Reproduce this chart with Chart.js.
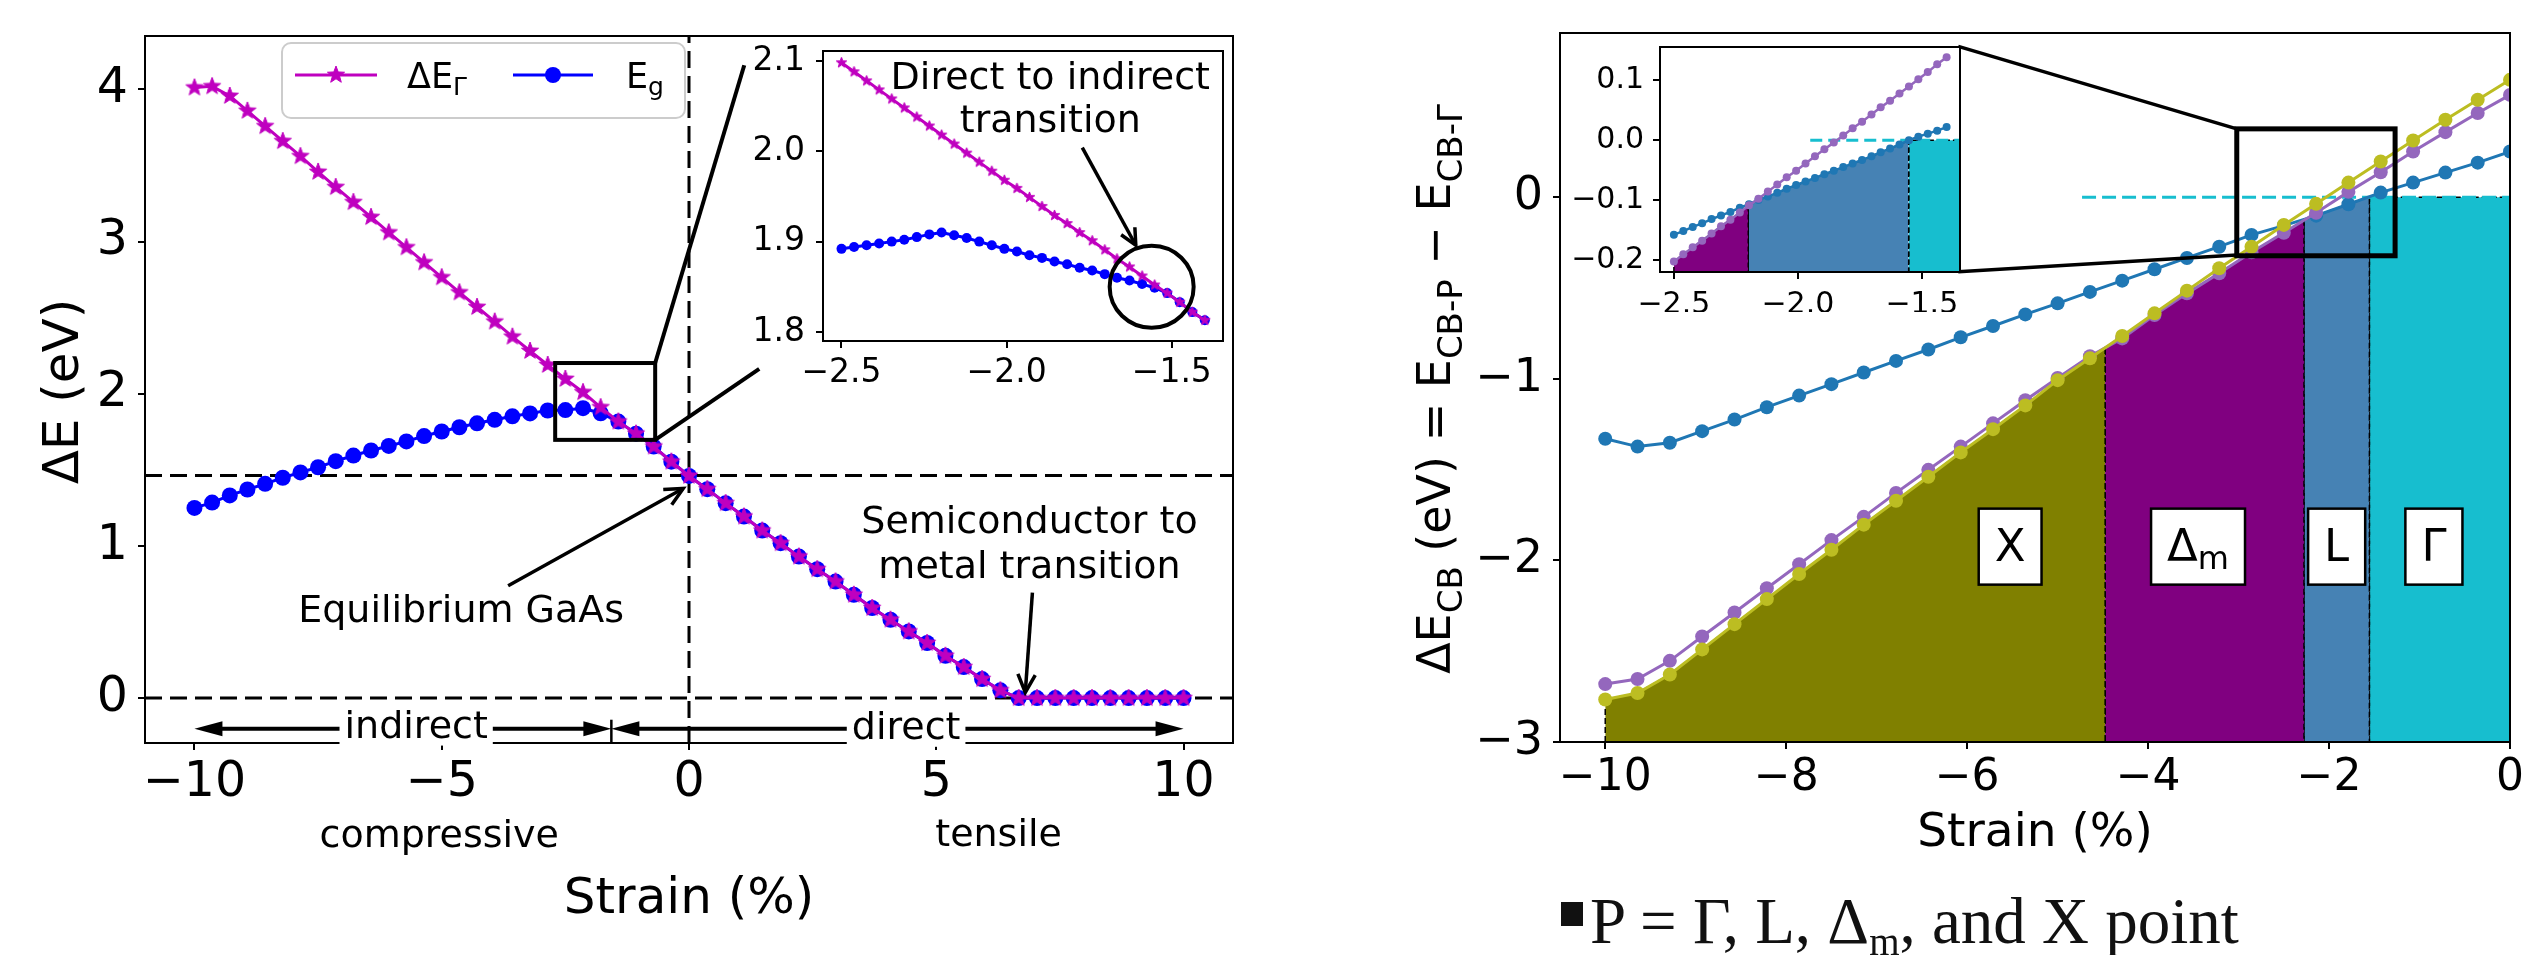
<!DOCTYPE html>
<html><head><meta charset="utf-8">
<script src="https://cdn.jsdelivr.net/npm/chart.js"></script>
<style>
html,body{margin:0;padding:0;background:#fff;overflow:hidden;}
#wrap{position:relative;width:2532px;height:955px;background:#fff;overflow:hidden;}
canvas{position:absolute;}
#cap{position:absolute;left:1590px;top:889px;font-family:"Liberation Serif",serif;font-size:65px;line-height:65px;color:#111;white-space:nowrap;}
#cap .sub{font-size:0.6em;position:relative;top:0.32em;}
#bullet{position:absolute;left:1561px;top:902px;width:22px;height:24px;background:#111;}
</style></head><body>
<div id="wrap">
<canvas id="cLeft" width="1260" height="955" style="left:0;top:0"></canvas>
<canvas id="cRight" width="1232" height="955" style="left:1300px;top:0"></canvas>
<canvas id="cLeftIn" width="540" height="400" style="left:700px;top:0"></canvas>
<canvas id="cRightIn" width="440" height="330" style="left:1540px;top:0"></canvas>
<div id="bullet"></div>
<div id="cap">P = Γ, L, Δ<span class="sub">m</span>, and X point</div>
</div>
<script>
// ---------------- DATA ----------------
// Left panel: strain (%) grid and energies (eV)
const strainMain = [-10, -9.643, -9.286, -8.929, -8.571, -8.214, -7.857, -7.5, -7.143, -6.786, -6.429, -6.071, -5.714, -5.357, -5, -4.643, -4.286, -3.929, -3.571, -3.214, -2.857, -2.5, -2.143, -1.786, -1.429, -1.071, -0.714, -0.357, 0,
  0.37, 0.741, 1.111, 1.481, 1.852, 2.222, 2.593, 2.963, 3.333, 3.704, 4.074, 4.444, 4.815, 5.185, 5.556, 5.926, 6.296, 6.667, 7.037, 7.407, 7.778, 8.148, 8.519, 8.889, 9.259, 9.63, 10];
const dEGamma = [4.012, 4.020, 3.957, 3.859, 3.758, 3.660, 3.561, 3.458, 3.358, 3.259, 3.161, 3.060, 2.962, 2.863, 2.765, 2.666, 2.570, 2.474, 2.375, 2.281, 2.189, 2.097, 2.010, 1.911, 1.817, 1.738, 1.653, 1.554, 1.460,
  1.373, 1.281, 1.193, 1.101, 1.018, 0.930, 0.847, 0.766, 0.679, 0.592, 0.515, 0.438, 0.362, 0.278, 0.204, 0.125, 0.051, 0, 0, 0, 0, 0, 0, 0, 0, 0, 0];
const Eg = [1.250, 1.285, 1.332, 1.371, 1.408, 1.448, 1.483, 1.517, 1.557, 1.594, 1.627, 1.657, 1.687, 1.722, 1.752, 1.780, 1.806, 1.829, 1.852, 1.871, 1.890, 1.893, 1.905, 1.872, 1.817, 1.738, 1.653, 1.554, 1.460,
  1.373, 1.281, 1.193, 1.101, 1.018, 0.930, 0.847, 0.766, 0.679, 0.592, 0.515, 0.438, 0.362, 0.278, 0.204, 0.125, 0.051, 0, 0, 0, 0, 0, 0, 0, 0, 0, 0];
const eqGap = 1.463;
const leftXTicks = [-10, -5, 0, 5, 10];
const leftYTicks = [0, 1, 2, 3, 4];

// Insets: strain grid (%)
const insetStrain = [-2.5, -2.462, -2.424, -2.386, -2.348, -2.310, -2.272, -2.234, -2.197, -2.159, -2.121, -2.083, -2.045, -2.007, -1.969, -1.931, -1.893, -1.855, -1.817, -1.779, -1.741, -1.703, -1.666, -1.628, -1.590, -1.552, -1.514, -1.476, -1.438, -1.4];
const insetDEGamma = [2.098, 2.088, 2.078, 2.068, 2.058, 2.048, 2.038, 2.028, 2.018, 2.008, 1.998, 1.988, 1.978, 1.968, 1.959, 1.949, 1.939, 1.929, 1.920, 1.910, 1.901, 1.891, 1.881, 1.872, 1.862, 1.852, 1.843, 1.833, 1.822, 1.813];
const insetEg = [1.892, 1.894, 1.896, 1.898, 1.900, 1.902, 1.905, 1.908, 1.910, 1.907, 1.904, 1.900, 1.896, 1.892, 1.889, 1.885, 1.882, 1.878, 1.875, 1.871, 1.868, 1.864, 1.860, 1.857, 1.853, 1.849, 1.843, 1.833, 1.822, 1.813];
const insetLXTicks = [-2.5, -2.0, -1.5];
const insetLYTicks = [1.8, 1.9, 2.0, 2.1];

// Right panel: conduction-band offsets (eV) vs strain
const strainCB = [-10, -9.643, -9.286, -8.929, -8.571, -8.214, -7.857, -7.5, -7.143, -6.786, -6.429, -6.071, -5.714, -5.357, -5, -4.643, -4.286, -3.929, -3.571, -3.214, -2.857, -2.5, -2.143, -1.786, -1.429, -1.071, -0.714, -0.357, 0];
const cbL = [-1.330, -1.373, -1.352, -1.288, -1.224, -1.156, -1.092, -1.029, -0.965, -0.901, -0.838, -0.771, -0.709, -0.645, -0.584, -0.521, -0.459, -0.396, -0.334, -0.272, -0.207, -0.156, -0.101, -0.038, 0.026, 0.081, 0.136, 0.191, 0.252];
const cbDm = [-2.681, -2.653, -2.553, -2.419, -2.287, -2.153, -2.021, -1.888, -1.760, -1.628, -1.501, -1.373, -1.245, -1.118, -0.995, -0.875, -0.777, -0.648, -0.529, -0.418, -0.303, -0.195, -0.085, 0.030, 0.138, 0.252, 0.359, 0.464, 0.564];
const cbX = [-2.766, -2.730, -2.628, -2.490, -2.351, -2.213, -2.075, -1.941, -1.803, -1.671, -1.539, -1.405, -1.277, -1.146, -1.007, -0.887, -0.764, -0.639, -0.514, -0.391, -0.272, -0.152, -0.036, 0.081, 0.197, 0.313, 0.427, 0.537, 0.647];
const gammaLineX = [-4.73, 0];
const gammaLineY = [0, 0];
const regionBounds = [-10, -4.475, -2.277, -1.554, 0];
const regionNames = ['X', 'Δm', 'L', 'Γ'];
const insetCBDm = [-0.203, -0.191, -0.179, -0.168, -0.156, -0.144, -0.133, -0.121, -0.109, -0.098, -0.086, -0.074, -0.062, -0.051, -0.039, -0.027, -0.015, -0.004, 0.008, 0.020, 0.031, 0.043, 0.055, 0.066, 0.078, 0.090, 0.102, 0.114, 0.127, 0.139];
const insetCBL = [-0.158, -0.152, -0.145, -0.139, -0.132, -0.126, -0.120, -0.113, -0.107, -0.100, -0.094, -0.088, -0.081, -0.075, -0.069, -0.063, -0.057, -0.051, -0.045, -0.039, -0.033, -0.027, -0.020, -0.014, -0.007, 0.000, 0.006, 0.011, 0.016, 0.022];
const insetGammaX = [-1.95, -1.345];
const insetGammaY = [0, 0];
const insetRegionBounds = [-2.5, -2.2, -1.553, -1.345];
const rightXTicks = [-10, -8, -6, -4, -2, 0];
const rightYTicks = [-3, -2, -1, 0];
const insetRXTicks = [-2.5, -2.0, -1.5];
const insetRYTicks = [-0.2, -0.1, 0.0, 0.1];

// ---------------- HELPERS ----------------
const FONT = '"DejaVu Sans", sans-serif';
Chart.defaults.font.family = FONT;
Chart.defaults.color = '#000';
const fmtInt = v => (v < 0 ? '\u2212' : '') + Math.abs(v);
const fmt1 = v => (v < -1e-9 ? '\u2212' : '') + Math.abs(v).toFixed(1);
const pts = (xs, ys) => xs.map((x, i) => ({ x, y: ys[i] }));
function interp(xs, ys, x) {
  for (let i = 0; i < xs.length - 1; i++) {
    if (x >= xs[i] && x <= xs[i + 1]) { const t = (x - xs[i]) / (xs[i + 1] - xs[i]); return ys[i] + t * (ys[i + 1] - ys[i]); }
  }
  return x < xs[0] ? ys[0] : ys[ys.length - 1];
}
function regionPts(xs, ys, a, b, floor) {
  const out = [{ x: a, y: floor }, { x: a, y: interp(xs, ys, a) }];
  xs.forEach((x, i) => { if (x > a && x < b) out.push({ x, y: ys[i] }); });
  out.push({ x: b, y: interp(xs, ys, b) }, { x: b, y: floor });
  return out;
}
function makeStar(r, color) {
  const c = document.createElement('canvas');
  const s = Math.ceil(2 * r + 4); c.width = s; c.height = s;
  const g = c.getContext('2d');
  g.fillStyle = color; g.strokeStyle = color; g.lineWidth = 1; g.lineJoin = 'miter';
  g.beginPath();
  for (let i = 0; i < 10; i++) {
    const ang = -Math.PI / 2 + i * Math.PI / 5, rr = i % 2 === 0 ? r : r * 0.42;
    g.lineTo(s / 2 + rr * Math.cos(ang), s / 2 + rr * Math.sin(ang));
  }
  g.closePath(); g.fill(); g.stroke();
  return c;
}
function axis(o) {
  return {
    type: 'linear', min: o.min, max: o.max,
    afterFit: s => { if (o.horizontal) s.height = o.size; else s.width = o.size; },
    afterBuildTicks: s => { s.ticks = o.ticks.map(v => ({ value: v })); },
    ticks: { callback: o.fmt, font: { size: o.font, lineHeight: 1 }, padding: o.pad, maxRotation: 0, minRotation: 0, autoSkip: false, color: '#000' },
    grid: { display: true, drawOnChartArea: false, drawTicks: true, tickLength: 7, color: '#000', lineWidth: 2 },
    border: { display: false }
  };
}
function options(c) {
  return {
    responsive: false, maintainAspectRatio: false, animation: false, devicePixelRatio: 1, events: [],
    layout: { padding: { left: c.area.left - c.yW, top: c.area.top, right: c.w - c.area.right, bottom: c.h - c.area.bottom - c.xH } },
    plugins: { legend: { display: false }, tooltip: { enabled: false } },
    elements: { line: { tension: 0 } },
    scales: {
      x: axis({ horizontal: true, size: c.xH, min: c.xMin, max: c.xMax, ticks: c.xTicks, fmt: c.xFmt, font: c.xFont, pad: c.xPad }),
      y: axis({ horizontal: false, size: c.yW, min: c.yMin, max: c.yMax, ticks: c.yTicks, fmt: c.yFmt, font: c.yFont, pad: c.yPad })
    }
  };
}
const framePlugin = {
  id: 'frame',
  beforeDraw(chart) {
    const a = chart.chartArea, ctx = chart.ctx;
    ctx.save(); ctx.fillStyle = '#fff'; ctx.fillRect(a.left, a.top, a.right - a.left, a.bottom - a.top); ctx.restore();
  },
  afterDatasetsDraw(chart) {
    const a = chart.chartArea, ctx = chart.ctx;
    ctx.save(); ctx.strokeStyle = '#000'; ctx.lineWidth = 2;
    ctx.strokeRect(a.left, a.top, a.right - a.left, a.bottom - a.top); ctx.restore();
  }
};
function richText(ctx, parts, x, y, align) {
  let total = 0;
  parts.forEach(p => { ctx.font = p[1] + 'px ' + FONT; p.w = ctx.measureText(p[0]).width; total += p.w; });
  let cx = align === 'center' ? x - total / 2 : (align === 'right' ? x - total : x);
  ctx.textAlign = 'left'; ctx.textBaseline = 'alphabetic';
  parts.forEach(p => { ctx.font = p[1] + 'px ' + FONT; ctx.fillText(p[0], cx, y + (p[2] || 0)); cx += p.w; });
  return total;
}
function openArrow(ctx, x1, y1, x2, y2, lw, len) {
  const a = Math.atan2(y2 - y1, x2 - x1);
  ctx.save(); ctx.lineWidth = lw; ctx.strokeStyle = '#000'; ctx.lineJoin = 'miter';
  ctx.beginPath(); ctx.moveTo(x1, y1); ctx.lineTo(x2, y2); ctx.stroke();
  ctx.beginPath();
  ctx.moveTo(x2 - len * Math.cos(a - 0.45), y2 - len * Math.sin(a - 0.45)); ctx.lineTo(x2, y2);
  ctx.lineTo(x2 - len * Math.cos(a + 0.45), y2 - len * Math.sin(a + 0.45)); ctx.stroke();
  ctx.restore();
}
function filledHead(ctx, x, y, ang, len, hw) {
  ctx.beginPath(); ctx.moveTo(x, y);
  ctx.lineTo(x - len * Math.cos(ang) - hw * Math.sin(ang), y - len * Math.sin(ang) + hw * Math.cos(ang));
  ctx.lineTo(x - len * Math.cos(ang) + hw * Math.sin(ang), y - len * Math.sin(ang) - hw * Math.cos(ang));
  ctx.closePath(); ctx.fill();
}
function textBox(ctx, str, cx, baseline, size, pad) {
  ctx.font = size + 'px ' + FONT;
  const w = ctx.measureText(str).width;
  ctx.fillStyle = '#fff'; ctx.fillRect(cx - w / 2 - pad, baseline - size * 0.85, w + 2 * pad, size * 1.05);
  ctx.fillStyle = '#000'; ctx.textAlign = 'center'; ctx.textBaseline = 'alphabetic'; ctx.fillText(str, cx, baseline);
}

// ---------------- LEFT MAIN ----------------
const L = { xMin: -11, xMax: 11, yMin: -0.295, yMax: 4.351 };
const starMain = makeStar(9, '#bf00bf');
const starInset = makeStar(5.5, '#bf00bf');
const leftAnno = {
  box: [-2.706, -0.684, 1.697, 2.202],
  conn: [[-0.684, 2.202, 1.117, 4.159], [-0.684, 1.697, 1.42, 2.163]],
  eq: { text: 'Equilibrium GaAs', x: -4.607, y: 0.50, arrow: [-3.657, 0.738, -0.117, 1.378] },
  semi: { lines: ['Semiconductor to', 'metal transition'], x: 6.885, y: [1.086, 0.791], arrow: [6.944, 0.693, 6.80, 0.037] },
  comp: { text: 'compressive', x: -5.05, y: -0.98 },
  tens: { text: 'tensile', x: 6.26, y: -0.975 },
  rangeY: -0.201, split: -1.57,
  ind: { text: 'indirect', x: -5.517, y: -0.262 },
  dir: { text: 'direct', x: 4.39, y: -0.27 }
};
const leftPlugin = {
  id: 'leftAnno',
  afterDraw(chart) {
    const ctx = chart.ctx, xs = chart.scales.x, ys = chart.scales.y, a = chart.chartArea;
    const X = v => xs.getPixelForValue(v), Y = v => ys.getPixelForValue(v);
    const A = leftAnno;
    ctx.save();
    ctx.strokeStyle = '#000'; ctx.fillStyle = '#000';
    // zoom box + connectors
    ctx.lineWidth = 4;
    ctx.strokeRect(X(A.box[0]), Y(A.box[3]), X(A.box[1]) - X(A.box[0]), Y(A.box[2]) - Y(A.box[3]));
    A.conn.forEach(c => { ctx.beginPath(); ctx.moveTo(X(c[0]), Y(c[1])); ctx.lineTo(X(c[2]), Y(c[3])); ctx.stroke(); });
    // annotations
    ctx.font = '38px ' + FONT; ctx.textAlign = 'center'; ctx.textBaseline = 'alphabetic';
    ctx.fillText(A.eq.text, X(A.eq.x), Y(A.eq.y));
    openArrow(ctx, X(A.eq.arrow[0]), Y(A.eq.arrow[1]), X(A.eq.arrow[2]), Y(A.eq.arrow[3]), 3.5, 20);
    ctx.font = '38px ' + FONT; ctx.textAlign = 'center';
    A.semi.lines.forEach((t, i) => ctx.fillText(t, X(A.semi.x), Y(A.semi.y[i])));
    openArrow(ctx, X(A.semi.arrow[0]), Y(A.semi.arrow[1]), X(A.semi.arrow[2]), Y(A.semi.arrow[3]), 3.5, 20);
    ctx.font = '38px ' + FONT; ctx.textAlign = 'center';
    ctx.fillText(A.comp.text, X(A.comp.x), Y(A.comp.y));
    ctx.fillText(A.tens.text, X(A.tens.x), Y(A.tens.y));
    // range arrows
    const ry = Y(A.rangeY);
    ctx.lineWidth = 4;
    ctx.beginPath(); ctx.moveTo(X(leftXTicks[0]) + 10, ry); ctx.lineTo(X(A.split) - 10, ry);
    ctx.moveTo(X(A.split) + 10, ry); ctx.lineTo(X(leftXTicks[4]) - 10, ry); ctx.stroke();
    filledHead(ctx, X(leftXTicks[0]), ry, Math.PI, 28, 7.5);
    filledHead(ctx, X(A.split), ry, 0, 28, 7.5);
    filledHead(ctx, X(A.split), ry, Math.PI, 28, 7.5);
    filledHead(ctx, X(leftXTicks[4]), ry, 0, 28, 7.5);
    ctx.lineWidth = 2.5;
    ctx.beginPath(); ctx.moveTo(X(A.split), Y(-0.142)); ctx.lineTo(X(A.split), a.bottom); ctx.stroke();
    textBox(ctx, A.ind.text, X(A.ind.x), Y(A.ind.y), 38, 5);
    textBox(ctx, A.dir.text, X(A.dir.x), Y(A.dir.y), 38, 5);
    // axis titles
    ctx.fillStyle = '#000';
    ctx.font = '50px ' + FONT; ctx.textAlign = 'center'; ctx.textBaseline = 'alphabetic';
    ctx.fillText('Strain (%)', (a.left + a.right) / 2, 913);
    ctx.save(); ctx.translate(78, (a.top + a.bottom) / 2 + 2); ctx.rotate(-Math.PI / 2);
    ctx.fillText('ΔE (eV)', 0, 0); ctx.restore();
    // legend
    const lx = 282, ly = 43, lw = 403, lh = 75, r = 9;
    ctx.globalAlpha = 0.85; ctx.fillStyle = '#fff';
    ctx.beginPath(); ctx.roundRect(lx, ly, lw, lh, r); ctx.fill();
    ctx.globalAlpha = 1; ctx.strokeStyle = '#cccccc'; ctx.lineWidth = 2; ctx.stroke();
    ctx.strokeStyle = '#bf00bf'; ctx.lineWidth = 3;
    ctx.beginPath(); ctx.moveTo(295, 75); ctx.lineTo(377, 75); ctx.stroke();
    ctx.drawImage(starMain, 336 - starMain.width / 2, 75 - starMain.height / 2);
    ctx.strokeStyle = '#0000ff';
    ctx.beginPath(); ctx.moveTo(513, 75); ctx.lineTo(593, 75); ctx.stroke();
    ctx.fillStyle = '#0000ff'; ctx.beginPath(); ctx.arc(553, 75, 8, 0, 2 * Math.PI); ctx.fill();
    ctx.fillStyle = '#000';
    richText(ctx, [['ΔE', 35, 0], ['Γ', 25, 7]], 407, 88, 'left');
    richText(ctx, [['E', 35, 0], ['g', 25, 7]], 626, 88, 'left');
    ctx.restore();
  }
};
new Chart(document.getElementById('cLeft'), {
  type: 'line',
  data: { datasets: [
    { data: pts(strainMain, dEGamma), borderColor: '#bf00bf', borderWidth: 3, pointStyle: starMain, pointRadius: 9, order: 0 },
    { data: pts(strainMain, Eg), borderColor: '#0000ff', borderWidth: 3, pointStyle: 'circle', pointRadius: 8, pointBorderWidth: 0, pointBackgroundColor: '#0000ff', order: 1 },
    { data: [{ x: L.xMin, y: eqGap }, { x: L.xMax, y: eqGap }], borderColor: '#000', borderWidth: 3, borderDash: [17, 8], pointRadius: 0, order: 5 },
    { data: [{ x: L.xMin, y: 0 }, { x: L.xMax, y: 0 }], borderColor: '#000', borderWidth: 3, borderDash: [17, 8], pointRadius: 0, order: 5 },
    { data: [{ x: 0, y: L.yMin }, { x: 0, y: L.yMax }], borderColor: '#000', borderWidth: 3, borderDash: [17, 8], pointRadius: 0, order: 5 }
  ] },
  options: options({ w: 1260, h: 955, area: { left: 145, top: 36, right: 1233, bottom: 743 }, yW: 145, xH: 100,
    xMin: L.xMin, xMax: L.xMax, yMin: L.yMin, yMax: L.yMax, xTicks: leftXTicks, yTicks: leftYTicks,
    xFmt: fmtInt, yFmt: fmtInt, xFont: 49, yFont: 49, xPad: 9, yPad: 10 }),
  plugins: [framePlugin, leftPlugin]
});

// ---------------- LEFT INSET ----------------
const liAnno = { lines: ['Direct to indirect', 'transition'], x: -1.868, y: [2.0687, 2.0217], arrow: [-1.771, 2.004, -1.609, 1.896], circle: [-1.561, 1.850] };
const leftInPlugin = {
  id: 'liAnno',
  afterDraw(chart) {
    const ctx = chart.ctx, X = v => chart.scales.x.getPixelForValue(v), Y = v => chart.scales.y.getPixelForValue(v);
    ctx.save(); ctx.fillStyle = '#000';
    ctx.font = '38px ' + FONT; ctx.textAlign = 'center'; ctx.textBaseline = 'alphabetic';
    liAnno.lines.forEach((t, i) => ctx.fillText(t, X(liAnno.x), Y(liAnno.y[i])));
    openArrow(ctx, X(liAnno.arrow[0]), Y(liAnno.arrow[1]), X(liAnno.arrow[2]), Y(liAnno.arrow[3]), 3.5, 18);
    ctx.lineWidth = 4; ctx.strokeStyle = '#000';
    ctx.beginPath(); ctx.ellipse(X(liAnno.circle[0]), Y(liAnno.circle[1]), 42, 41, 0, 0, 2 * Math.PI); ctx.stroke();
    ctx.restore();
  }
};
new Chart(document.getElementById('cLeftIn'), {
  type: 'line',
  data: { datasets: [
    { data: pts(insetStrain, insetDEGamma), borderColor: '#bf00bf', borderWidth: 3, pointStyle: starInset, pointRadius: 5, order: 0 },
    { data: pts(insetStrain, insetEg), borderColor: '#0000ff', borderWidth: 3, pointStyle: 'circle', pointRadius: 5, pointBorderWidth: 0, pointBackgroundColor: '#0000ff', order: 1 }
  ] },
  options: options({ w: 540, h: 400, area: { left: 123, top: 51, right: 523, bottom: 341 }, yW: 123, xH: 45,
    xMin: -2.556, xMax: -1.345, yMin: 1.79, yMax: 2.111, xTicks: insetLXTicks, yTicks: insetLYTicks,
    xFmt: fmt1, yFmt: fmt1, xFont: 33, yFont: 33, xPad: 9, yPad: 11 }),
  plugins: [framePlugin, leftInPlugin]
});

// ---------------- RIGHT MAIN ----------------
const R = { xMin: -10.5, xMax: 0, yMin: -3, yMax: 0.905 };
const regionColors = ['#808000', '#800080', '#4682b4', '#17becf'];
const regionSeries = [[strainCB, cbX], [strainCB, cbDm], [strainCB, cbL], [gammaLineX, gammaLineY]];
const rightAnno = {
  box: [-3.02, -1.27, -0.322, 0.377],
  conn: [[-6.098, 0.831, -3.02, 0.377], [-6.098, -0.41, -3.02, -0.318]],
  labelY: -1.924, labelX: [-5.525, -3.448, -1.916, -0.841]
};
function fillDatasets(series, bounds, floor, ord) {
  return series.map((s, i) => ({
    data: regionPts(s[0], s[1], bounds[i], bounds[i + 1], floor),
    fill: 'start', backgroundColor: regionColors[i], borderColor: '#000', borderWidth: 1.5, borderDash: [6, 3],
    pointRadius: 0, order: ord, clip: 0
  }));
}
const rightPlugin = {
  id: 'rightAnno',
  afterDraw(chart) {
    const ctx = chart.ctx, a = chart.chartArea, X = v => chart.scales.x.getPixelForValue(v), Y = v => chart.scales.y.getPixelForValue(v);
    const A = rightAnno;
    ctx.save(); ctx.strokeStyle = '#000'; ctx.fillStyle = '#000';
    ctx.lineWidth = 5;
    ctx.strokeRect(X(A.box[0]), Y(A.box[3]), X(A.box[1]) - X(A.box[0]), Y(A.box[2]) - Y(A.box[3]));
    ctx.lineWidth = 3.5;
    A.conn.forEach(c => { ctx.beginPath(); ctx.moveTo(X(c[0]), Y(c[1])); ctx.lineTo(X(c[2]), Y(c[3])); ctx.stroke(); });
    // region labels
    regionNames.forEach((n, i) => {
      const cx = X(A.labelX[i]), cy = Y(A.labelY);
      const parts = n === 'Δm' ? [['Δ', 45, 0], ['m', 32, 8]] : [[n, 45, 0]];
      let w = 0; parts.forEach(p => { ctx.font = p[1] + 'px ' + FONT; w += ctx.measureText(p[0]).width; });
      const bw = w + 32, bh = 76;
      ctx.fillStyle = '#fff'; ctx.fillRect(cx - bw / 2, cy - bh / 2, bw, bh);
      ctx.lineWidth = 2.5; ctx.strokeStyle = '#000'; ctx.strokeRect(cx - bw / 2, cy - bh / 2, bw, bh);
      ctx.fillStyle = '#000'; richText(ctx, parts, cx, cy + 14, 'center');
    });
    // axis titles
    ctx.fillStyle = '#000'; ctx.font = '47px ' + FONT; ctx.textAlign = 'center'; ctx.textBaseline = 'alphabetic';
    ctx.fillText('Strain (%)', (a.left + a.right) / 2, 846);
    ctx.save(); ctx.translate(150, 389); ctx.rotate(-Math.PI / 2);
    richText(ctx, [['ΔE', 46, 0], ['CB', 34, 12], [' (eV) = E', 46, 0], ['CB-P', 34, 12], [' \u2212 E', 46, 0], ['CB-\u0393', 34, 12]], 0, 0, 'center');
    ctx.restore();
    ctx.restore();
  }
};
new Chart(document.getElementById('cRight'), {
  type: 'line',
  data: { datasets: [
    { data: pts(strainCB, cbX), borderColor: '#bcbd22', borderWidth: 3, pointRadius: 7, pointBorderWidth: 0, pointBackgroundColor: '#bcbd22', order: 0, clip: 0 },
    { data: pts(strainCB, cbDm), borderColor: '#9467bd', borderWidth: 3, pointRadius: 7, pointBorderWidth: 0, pointBackgroundColor: '#9467bd', order: 1, clip: 0 },
    { data: pts(strainCB, cbL), borderColor: '#1f77b4', borderWidth: 3, pointRadius: 7, pointBorderWidth: 0, pointBackgroundColor: '#1f77b4', order: 2, clip: 0 },
    { data: pts(gammaLineX, gammaLineY), borderColor: '#17becf', borderWidth: 3, borderDash: [14, 6], pointRadius: 0, order: 5, clip: 0 },
    ...fillDatasets(regionSeries, regionBounds, R.yMin, 10)
  ] },
  options: options({ w: 1232, h: 955, area: { left: 260, top: 33, right: 1215, bottom: 742 }, yW: 260, xH: 100,
    xMin: R.xMin, xMax: R.xMax, yMin: R.yMin, yMax: R.yMax, xTicks: rightXTicks, yTicks: rightYTicks,
    xFmt: fmtInt, yFmt: fmtInt, xFont: 44, yFont: 46, xPad: 8, yPad: 10 }),
  plugins: [framePlugin, rightPlugin]
});

// ---------------- RIGHT INSET ----------------
const RI = { xMin: -2.556, xMax: -1.346, yMin: -0.2205, yMax: 0.156 };
const insetSeries = [[insetStrain, insetCBDm], [insetStrain, insetCBL], [insetGammaX, insetGammaY]];
const insetFill = insetSeries.map((s, i) => ({
  data: regionPts(s[0], s[1], insetRegionBounds[i], insetRegionBounds[i + 1], RI.yMin),
  fill: 'start', backgroundColor: regionColors[i + 1], borderColor: '#000', borderWidth: 1.5, borderDash: [5, 3],
  pointRadius: 0, order: 10, clip: 0
}));
new Chart(document.getElementById('cRightIn'), {
  type: 'line',
  data: { datasets: [
    { data: pts(insetStrain, insetCBDm), borderColor: '#9467bd', borderWidth: 2.5, pointRadius: 4, pointBorderWidth: 0, pointBackgroundColor: '#9467bd', order: 0, clip: 0 },
    { data: pts(insetStrain, insetCBL), borderColor: '#1f77b4', borderWidth: 2.5, pointRadius: 4, pointBorderWidth: 0, pointBackgroundColor: '#1f77b4', order: 1, clip: 0 },
    { data: pts(insetGammaX, insetGammaY), borderColor: '#17becf', borderWidth: 3, borderDash: [12, 6], pointRadius: 0, order: 5, clip: 0 },
    ...insetFill
  ] },
  options: options({ w: 440, h: 330, area: { left: 120, top: 47, right: 420, bottom: 272 }, yW: 120, xH: 40,
    xMin: RI.xMin, xMax: RI.xMax, yMin: RI.yMin, yMax: RI.yMax, xTicks: insetRXTicks, yTicks: insetRYTicks,
    xFmt: fmt1, yFmt: fmt1, xFont: 30, yFont: 30, xPad: 11, yPad: 9 }),
  plugins: [framePlugin]
});
</script>
</body></html>
